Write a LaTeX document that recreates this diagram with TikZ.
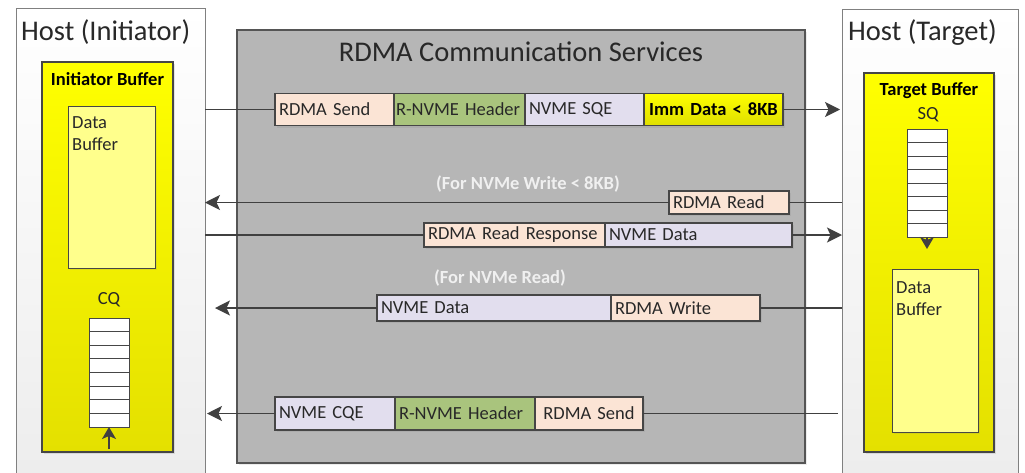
\documentclass[tikz,border=0pt]{standalone}
\usepackage{fontspec}
\setmainfont{Carlito}
\usetikzlibrary{arrows.meta,shadows,calc}
\definecolor{linec}{RGB}{64,64,64}
\definecolor{boxc}{RGB}{70,70,70}
\definecolor{hostb}{RGB}{128,128,128}
\definecolor{hostbot}{RGB}{236,236,236}
\definecolor{grayc}{RGB}{182,182,182}
\definecolor{grayb}{RGB}{85,85,85}
\definecolor{ytop}{RGB}{255,255,0}
\definecolor{ybot}{RGB}{228,224,0}
\definecolor{ylight}{RGB}{255,255,140}
\definecolor{peachc}{RGB}{251,228,213}
\definecolor{greenc}{RGB}{169,196,125}
\definecolor{lavc}{RGB}{226,222,238}
\definecolor{immc}{RGB}{242,242,0}
\definecolor{txtc}{RGB}{40,40,40}
\definecolor{notec}{RGB}{240,240,240}
\newcommand\fsTitle{\fontsize{28.5}{34}\selectfont}
\newcommand\fsBody{\fontsize{18.5}{22}\selectfont}
\tikzset{
  hostbox/.style={draw=hostb, line width=1pt, top color=white, bottom color=hostbot, anchor=north west, inner sep=0pt, outer sep=0pt},
  graybox/.style={draw=grayb, line width=1.2pt, fill=grayc, anchor=north west, inner sep=0pt, outer sep=0pt, drop shadow={opacity=0.15,shadow xshift=2pt,shadow yshift=-2pt}},
  ybuf/.style={draw=boxc, line width=1.2pt, top color=ytop, bottom color=ybot, anchor=north west, inner sep=0pt, outer sep=0pt, drop shadow={opacity=0.2,shadow xshift=2pt,shadow yshift=-2pt}},
  dbuf/.style={draw=boxc, line width=1pt, fill=ylight, anchor=north west, inner sep=0pt, outer sep=0pt, drop shadow={opacity=0.15,shadow xshift=2pt,shadow yshift=-2pt}},
  cell/.style={draw=boxc, line width=0.9pt, fill=white, minimum width=40pt, inner sep=0pt, outer sep=0pt},
  ln/.style={draw=linec, line width=1.5pt},
  arr/.style={ln, -{Stealth[length=15pt,width=15pt,inset=3.5pt]}},
  sarr/.style={ln, -{Stealth[length=12pt,width=14pt,inset=3pt]}},
  pk/.style={draw=boxc, line width=1.2pt, inner xsep=4pt, inner ysep=0pt, outer sep=0pt, anchor=west, align=left, font=\fsBody, text=txtc, drop shadow={opacity=0.18,shadow xshift=2pt,shadow yshift=-2pt}},
  peach/.style={fill=peachc},
  green/.style={fill=greenc},
  lav/.style={fill=lavc},
  imm/.style={top color=ytop, bottom color=immc!92!black, align=center, font=\fsBody\bfseries, text=black},
  lbl/.style={font=\fsBody, text=txtc, inner sep=0pt},
  ttl/.style={font=\fsTitle, text=txtc, inner sep=0pt},
  note/.style={font=\fsBody\bfseries, text=notec, inner sep=0pt}
}
\begin{document}
\begin{tikzpicture}[x=1pt,y=-1pt]
\clip (0,0) rectangle (1025,472);
\fill[white] (0,0) rectangle (1025,472);

% host boxes
\node[hostbox, minimum width=189pt, minimum height=490pt] (hostI) at (16,8) {};
\node[hostbox, minimum width=176pt, minimum height=490pt] (hostT) at (842,9) {};
\node[ttl, anchor=base west] (hostIt) at (21,40) {Host (Initiator)};
\node[ttl, anchor=base west] (hostTt) at (848,40) {Host (Target)};

% RDMA services
\node[graybox, minimum width=568pt, minimum height=433pt] (svc) at (237,30) {};
\node[ttl, anchor=base] (svct) at (521,61) {RDMA Communication Services};

% initiator buffer
\node[ybuf, minimum width=131pt, minimum height=390pt] (ibuf) at (42,62) {};
\node[lbl, anchor=base, font=\fsBody\bfseries, text=black] (ibuft) at (107.5,85) {Initiator Buffer};
\node[dbuf, minimum width=87pt, minimum height=162pt] (idata) at (68,106) {};
\node[lbl, anchor=north west, align=left] (idatat) at (72,116.5) {Data\\Buffer};
\node[lbl, anchor=base] (cqt) at (109,304) {CQ};
\foreach \i in {0,...,7}{
  \node[cell, minimum height=13.625pt] (cq\i) at (109,{318+13.625*\i+6.8125}) {};
}
\coordinate (cqin) at (109,449);
\draw[sarr] (cqin) -- (cq7.south);

% target buffer
\node[ybuf, minimum width=130pt, minimum height=379pt] (tbuf) at (864,73) {};
\node[lbl, anchor=base, font=\fsBody\bfseries, text=black] (tbuft) at (929,95) {Target Buffer};
\node[lbl, anchor=base] (sqt) at (928,119) {SQ};
\foreach \i in {0,...,7}{
  \node[cell, minimum height=13.5pt] (sq\i) at (927,{129+13.5*\i+6.75}) {};
}
\coordinate (sqout) at (927,249);
\draw[sarr] (sq7.south) -- (sqout);
\node[dbuf, minimum width=86pt, minimum height=163pt] (tdata) at (892,269) {};
\node[lbl, anchor=north west, align=left] (tdatat) at (896,281.5) {Data\\Buffer};

% row 1
\node[pk, peach, minimum height=32pt, text width=111pt] (r1a) at (275,109.5) {RDMA Send};
\node[pk, green, minimum height=32pt, inner xsep=2pt, text width=127pt] (r1b) at (r1a.east) {R-NVME Header};
\node[pk, lav, minimum height=32pt, text width=111pt] (r1c) at (r1b.east) {NVME SQE};
\node[pk, imm, minimum height=32pt, text width=131pt] (r1d) at (r1c.east) {Imm Data < 8KB};

% note 1
\node[note, anchor=base] (n1) at (528,189) {(For NVMe Write < 8KB)};

% row 2
\node[pk, peach, minimum height=23pt, text width=112pt] (r2a) at (669,202.5) {RDMA Read};

% row 3
\node[pk, peach, minimum height=24pt, text width=173pt] (r3a) at (424,235) {RDMA Read Response};
\node[pk, lav, minimum height=24pt, text width=179pt] (r3b) at (r3a.east) {NVME Data};

% note 2
\node[note, anchor=base] (n2) at (500,283) {(For NVMe Read)};

% row 4
\node[pk, lav, minimum height=26pt, text width=226pt] (r4a) at (377,308) {NVME Data};
\node[pk, peach, minimum height=26pt, text width=141pt] (r4b) at (r4a.east) {RDMA Write};

% row 5
\node[pk, lav, minimum height=33pt, text width=112pt] (r5a) at (275,413.5) {NVME CQE};
\node[pk, green, minimum height=33pt, text width=132pt] (r5b) at (r5a.east) {R-NVME Header};
\node[pk, peach, minimum height=33pt, text width=100pt, align=center] (r5c) at (r5b.east) {RDMA Send};

% connectors
\draw[ln] (r1a.west -| hostI.east) -- (r1a.west);
\draw[arr] (r1d.east) -- ([xshift=-2pt]r1d.east -| hostT.west);

\draw[ln] (r2a.east) -- (r2a.east -| hostT.west);
\draw[arr] (r2a.west) -- (r2a.west -| hostI.east);

\draw[ln] (r3a.west -| hostI.east) -- (r3a.west);
\draw[arr] (r3b.east) -- (r3b.east -| hostT.west);

\draw[ln] (r4b.east) -- (r4b.east -| hostT.west);
\draw[arr] (r4a.west) -- ([xshift=10pt]r4a.west -| hostI.east);

\draw[ln] (r5c.east) -- ([xshift=-4pt]r5c.east -| hostT.west);
\draw[arr] (r5a.west) -- ([xshift=2pt]r5a.west -| hostI.east);
\end{tikzpicture}
\end{document}
